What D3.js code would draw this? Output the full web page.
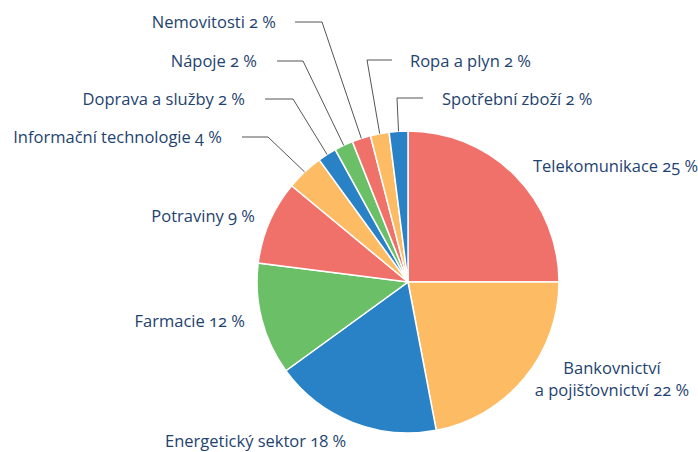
<!DOCTYPE html>
<html>
<head>
<meta charset="utf-8">
<script src="https://cdn.jsdelivr.net/npm/d3@7"></script>
<style>
  body { margin: 0; background: #fff; }
  text { font-family: "Open Sans", "Noto Sans", sans-serif; font-size: 16.5px; fill: #1e4370; font-variant-numeric: oldstyle-nums; }
</style>
</head>
<body>
<div id="chart"></div>
<script>
// sectors, clockwise from 12 o'clock
const sectors = ["Telekomunikace", "Bankovnictví a pojišťovnictví", "Energetický sektor", "Farmacie",
  "Potraviny", "Informační technologie", "Doprava a služby", "Nápoje", "Nemovitosti", "Ropa a plyn", "Spotřební zboží"];
const shares = [25, 22, 18, 12, 9, 4, 2, 2, 2, 2, 2];
const labelLines = [["Telekomunikace 25 %"], ["Bankovnictví", "a pojišťovnictví 22 %"], ["Energetický sektor 18 %"], ["Farmacie 12 %"],
  ["Potraviny 9 %"], ["Informační technologie 4 %"], ["Doprava a služby 2 %"], ["Nápoje 2 %"], ["Nemovitosti 2 %"], ["Ropa a plyn 2 %"], ["Spotřební zboží 2 %"]];

const colors = ["#f0716a", "#fdbb63", "#2a82c6", "#6bbf67"];

// label layout: text anchor point, and for small slices the leader elbow + horizontal end
const layout = [
  {x: 533, y: 172, anchor: "start"},
  {x: 612, y: 374, anchor: "middle"},
  {x: 165, y: 447, anchor: "start"},
  {x: 245, y: 327, anchor: "end"},
  {x: 255, y: 222, anchor: "end"},
  {x: 222, y: 143, anchor: "end", elbow: [268, 137], tail: 242},
  {x: 245, y: 105, anchor: "end", elbow: [293, 99], tail: 265},
  {x: 257, y: 67, anchor: "end", elbow: [303, 61], tail: 277},
  {x: 276, y: 28, anchor: "end", elbow: [322, 22], tail: 295},
  {x: 410, y: 67, anchor: "start", elbow: [367, 60], tail: 392},
  {x: 442, y: 105, anchor: "start", elbow: [397, 98], tail: 423}
];

const width = 698, height = 452;
const cx = 408, cy = 282, radius = 151;

const svg = d3.select("#chart")
  .append("svg")
  .attr("width", width)
  .attr("height", height);

const g = svg.append("g").attr("transform", `translate(${cx},${cy})`);

const pie = d3.pie().sort(null).value(d => d);
const arcs = pie(shares);
const arc = d3.arc().innerRadius(0).outerRadius(radius);

g.selectAll(".slice")
  .data(arcs)
  .join("path")
  .attr("class", "slice")
  .attr("d", arc)
  .attr("fill", (d, i) => colors[i % 4])
  .attr("stroke", "#fff")
  .attr("stroke-width", 1.5);

// leader lines for the small slices
const lineData = arcs.map((d, i) => ({d, l: layout[i]})).filter(o => o.l.elbow);
svg.selectAll(".leader")
  .data(lineData)
  .join("polyline")
  .attr("class", "leader")
  .attr("fill", "none")
  .attr("stroke", "#555")
  .attr("stroke-width", 1)
  .attr("points", o => {
    const a = (o.d.startAngle + o.d.endAngle) / 2;
    const px = cx + radius * Math.sin(a);
    const py = cy - radius * Math.cos(a);
    return [[o.l.tail, o.l.elbow[1]], o.l.elbow, [px, py]].map(p => p.join(",")).join(" ");
  });

const labels = svg.selectAll(".label")
  .data(layout)
  .join("text")
  .attr("class", "label")
  .attr("x", d => d.x)
  .attr("y", d => d.y)
  .attr("text-anchor", d => d.anchor);

labels.selectAll("tspan")
  .data((d, i) => labelLines[i].map(t => ({t, x: d.x})))
  .join("tspan")
  .attr("x", d => d.x)
  .attr("dy", (d, i) => i === 0 ? 0 : 22)
  .text(d => d.t);
</script>
</body>
</html>
